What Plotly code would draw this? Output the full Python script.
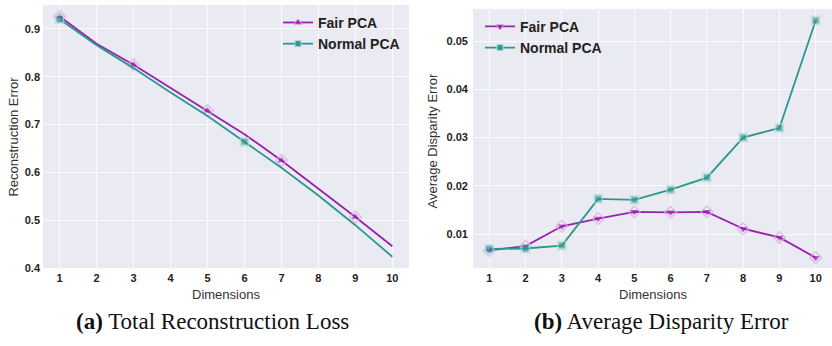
import plotly.graph_objects as go

# ---- data ----
dims = [1, 2, 3, 4, 5, 6, 7, 8, 9, 10]

recon_fair = [0.926, 0.869, 0.825, 0.777, 0.729, 0.680, 0.625, 0.566, 0.507, 0.446]
recon_normal = [0.920, 0.866, 0.818, 0.767, 0.718, 0.664, 0.610, 0.552, 0.490, 0.424]

disp_fair = [0.0066, 0.0075, 0.0116, 0.0132, 0.0146, 0.0145, 0.0146, 0.0111, 0.0093, 0.0051]
disp_normal = [0.0069, 0.0070, 0.0076, 0.0173, 0.0171, 0.0192, 0.0217, 0.0300, 0.0320, 0.0543]

recon_ticks = [0.4, 0.5, 0.6, 0.7, 0.8, 0.9]
disp_ticks = [0.01, 0.02, 0.03, 0.04, 0.05]

# which points carry a marker on each curve
recon_fair_marked = [0, 2, 4, 6, 8]
recon_normal_marked = [0, 5]
disp_marked = list(range(10))

PURPLE = "#9a20ad"
PURPLE_PALE = "#dcaae6"
TEAL = "#2b978f"
TEAL_PALE = "#aed8d4"
BG = "#eaeaf2"

W, H = 832, 346


def px_x(p):
    return p / W


def px_y(p):
    return 1 - p / H


def sizes(marked, s):
    return [s if i in marked else 0 for i in range(len(dims))]


fig = go.Figure()


def add_series(x, y, name, color, pale, fill_sym, open_sym, marked, xa, ya, legend,
               fill_size, open_size):
    # the curve itself
    fig.add_trace(go.Scatter(
        x=x, y=y, mode="lines", xaxis=xa, yaxis=ya, showlegend=False,
        line=dict(color=color, width=1.8), hoverinfo="skip",
    ))
    # pale outline marker underneath
    fig.add_trace(go.Scatter(
        x=x, y=y, mode="markers", xaxis=xa, yaxis=ya, showlegend=False,
        marker=dict(symbol=open_sym, size=sizes(marked, open_size), color=pale,
                    line=dict(color=pale, width=1.5)),
        hoverinfo="skip",
    ))
    # solid marker on top
    fig.add_trace(go.Scatter(
        x=x, y=y, mode="markers", name=name, xaxis=xa, yaxis=ya, showlegend=False,
        marker=dict(symbol=fill_sym, size=sizes(marked, fill_size), color=color,
                    line=dict(width=0)),
    ))
    # legend entry (no data of its own)
    fig.add_trace(go.Scatter(
        x=[None], y=[None], mode="lines+markers", name=f"<b>{name}</b>",
        xaxis=xa, yaxis=ya, legend=legend,
        line=dict(color=color, width=1.8),
        marker=dict(symbol=fill_sym, size=fill_size, color=color,
                    line=dict(color=pale, width=1)),
    ))


# left panel: reconstruction error
add_series(dims, recon_fair, "Fair PCA", PURPLE, PURPLE_PALE, "triangle-up", "diamond-open",
           recon_fair_marked, "x", "y", "legend", 7, 9)
add_series(dims, recon_normal, "Normal PCA", TEAL, TEAL_PALE, "square", "square-open",
           recon_normal_marked, "x", "y", "legend", 6, 8)

# right panel: disparity error
add_series(dims, disp_fair, "Fair PCA", PURPLE, PURPLE_PALE, "triangle-down", "diamond-open",
           disp_marked, "x2", "y2", "legend2", 7, 9)
add_series(dims, disp_normal, "Normal PCA", TEAL, TEAL_PALE, "square", "square-open",
           disp_marked, "x2", "y2", "legend2", 6, 8)

tick_font = dict(family="Liberation Sans, Arial, sans-serif", size=11, color="#222222")
title_font = dict(family="Liberation Sans, Arial, sans-serif", size=13, color="#333333")
caption_font = dict(family="Liberation Serif, Times New Roman, serif", size=23, color="#111111")
legend_font = dict(family="Liberation Sans, Arial, sans-serif", size=14, color="#222222")
grid = "rgba(255,255,255,0.8)"

xaxis_common = dict(
    range=[0.55, 10.45], tickmode="array", tickvals=dims,
    ticktext=[f"<b>{d}</b>" for d in dims], tickfont=tick_font,
    showgrid=True, gridcolor=grid, gridwidth=1,
    zeroline=False, showline=False, ticks="", ticklabelstandoff=2,
)

fig.update_layout(
    width=W, height=H,
    margin=dict(l=0, r=0, t=0, b=0),
    paper_bgcolor="white",
    plot_bgcolor=BG,
    xaxis=dict(domain=[px_x(43), px_x(409)], anchor="y", **xaxis_common),
    xaxis2=dict(domain=[px_x(473), 1.0], anchor="y2", **xaxis_common),
    yaxis=dict(
        domain=[px_y(273), px_y(5)], anchor="x", range=[0.4, 0.95],
        tickmode="array", tickvals=recon_ticks,
        ticktext=[f"<b>{v:g}</b>" for v in recon_ticks], tickfont=tick_font,
        showgrid=True, gridcolor=grid, zeroline=False,
        ticks="", ticklabelstandoff=2,
    ),
    yaxis2=dict(
        domain=[px_y(273), px_y(9)], anchor="x2", range=[0.0029, 0.0567],
        tickmode="array", tickvals=disp_ticks,
        ticktext=[f"<b>{v:.2f}</b>" for v in disp_ticks], tickfont=tick_font,
        showgrid=True, gridcolor=grid, zeroline=False,
        ticks="", ticklabelstandoff=4,
    ),
    legend=dict(
        x=px_x(278), y=px_y(7), xanchor="left", yanchor="top",
        bgcolor="rgba(0,0,0,0)", borderwidth=0, tracegroupgap=0,
        font=legend_font, itemwidth=30,
    ),
    legend2=dict(
        x=px_x(480), y=px_y(11), xanchor="left", yanchor="top",
        bgcolor="rgba(0,0,0,0)", borderwidth=0, tracegroupgap=0,
        font=legend_font, itemwidth=30,
    ),
    showlegend=True,
)

annotations = [
    dict(text="Reconstruction Error", x=px_x(14), y=px_y(139), textangle=-90, font=title_font),
    dict(text="Average Disparity Error", x=px_x(433), y=px_y(143), textangle=-90, font=title_font),
    dict(text="Dimensions", x=px_x(226), y=px_y(300), font=title_font),
    dict(text="Dimensions", x=px_x(653), y=px_y(300), font=title_font),
    dict(text="<b>(a)</b> Total Reconstruction Loss", x=px_x(213), y=px_y(327), font=caption_font),
    dict(text="<b>(b)</b> Average Disparity Error", x=px_x(661), y=px_y(327), font=caption_font),
]
for a in annotations:
    fig.add_annotation(xref="paper", yref="paper", showarrow=False,
                       xanchor="center", yanchor="middle", **a)

fig.write_html("out.html")
